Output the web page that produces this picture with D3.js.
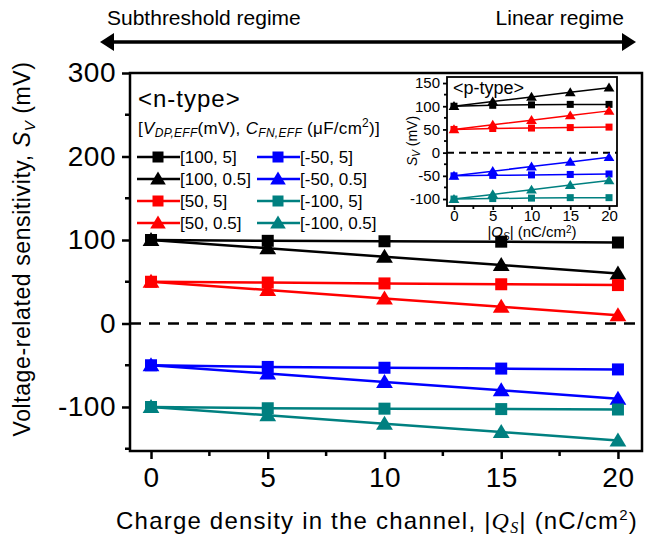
<!DOCTYPE html>
<html>
<head>
<meta charset="utf-8">
<script src="https://cdn.jsdelivr.net/npm/d3@7"></script>
<style>
  body { margin: 0; background: #fff; }
  text { font-family: "Liberation Sans", Arial, sans-serif; }
</style>
</head>
<body>
<svg id="chart" width="645" height="538"></svg>
<script>
// Charge density |Qs| (nC/cm2)
var charge = [0, 5, 10, 15, 20];

// n-type (main plot) Sv values, mV
var n100_5   = [100, 99, 98.5, 98, 97];
var n100_05  = [100, 90, 80, 70, 60];
var n50_5    = [50, 49, 48, 47, 46];
var n50_05   = [50, 40, 30, 20, 10];
var nm50_5   = [-50, -52, -53, -54, -55];
var nm50_05  = [-50, -60, -70, -80, -90];
var nm100_5  = [-100, -101.5, -102, -102.5, -103];
var nm100_05 = [-100, -110, -120, -130, -140];

// p-type (inset) Sv values, mV
var p100_5   = [100, 102, 103, 104, 104];
var p100_05  = [100, 110, 120, 130, 140];
var p50_5    = [50, 52, 53, 54, 55];
var p50_05   = [50, 60, 70, 80, 90];
var pm50_5   = [-50, -49, -48, -47, -46];
var pm50_05  = [-50, -40, -30, -20, -10];
var pm100_5  = [-100, -99, -98, -97, -97];
var pm100_05 = [-100, -90, -80, -70, -60];

var seriesLabels = ["[100, 5]", "[100, 0.5]", "[50, 5]", "[50, 0.5]",
                    "[-50, 5]", "[-50, 0.5]", "[-100, 5]", "[-100, 0.5]"];
var seriesColors = ["#000000", "#000000", "#ff0000", "#ff0000",
                    "#0000ff", "#0000ff", "#008080", "#008080"];
var seriesShapes = ["square", "triangle", "square", "triangle",
                    "square", "triangle", "square", "triangle"];

var mainTicksX = [0, 5, 10, 15, 20];
var mainTicksY = [-100, 0, 100, 200, 300];
var insetTicksY = [-100, -50, 0, 50, 100, 150];

var nSeries = [n100_5, n100_05, n50_5, n50_05, nm50_5, nm50_05, nm100_5, nm100_05];
var pSeries = [p100_5, p100_05, p50_5, p50_05, pm50_5, pm50_05, pm100_5, pm100_05];

var svg = d3.select("#chart");

// Marker drawing: squares and triangles
var drawMarker = function(g, shape, cx, cy, size, color) {
  if (shape === "square") {
    g.append("rect")
      .attr("x", cx - size / 2).attr("y", cy - size / 2)
      .attr("width", size).attr("height", size)
      .attr("fill", color);
  } else {
    var h = size * 0.95;
    g.append("path")
      .attr("d", "M" + cx + "," + (cy - h * 0.6) +
                 " L" + (cx + size * 0.6) + "," + (cy + h * 0.45) +
                 " L" + (cx - size * 0.6) + "," + (cy + h * 0.45) + " Z")
      .attr("fill", color);
  }
};

// Plain hyphen for negatives, as in the original figure
var fmt = d => String(d);

// Draw a framed panel with axes, dashed zero line and series
var drawPanel = function(opts) {
  var x = d3.scaleLinear().domain(opts.xDomain).range([opts.left, opts.right]);
  var y = d3.scaleLinear().domain(opts.yDomain).range([opts.bottom, opts.top]);
  var g = svg.append("g");

  if (opts.background) {
    g.append("rect")
      .attr("x", opts.left).attr("y", opts.top)
      .attr("width", opts.right - opts.left).attr("height", opts.bottom - opts.top)
      .attr("fill", "#fff");
  }

  // dashed zero line
  g.append("line")
    .attr("x1", opts.left).attr("x2", opts.right)
    .attr("y1", y(0)).attr("y2", y(0))
    .attr("stroke", "#000").attr("stroke-width", opts.dashWidth)
    .attr("stroke-dasharray", opts.dash);

  var line = d3.line().x((d, i) => x(charge[i])).y(d => y(d));
  opts.series.forEach((vals, k) => {
    g.append("path")
      .datum(vals)
      .attr("d", line)
      .attr("fill", "none")
      .attr("stroke", seriesColors[k])
      .attr("stroke-width", opts.lineWidth);
    vals.forEach((v, i) => {
      var s = seriesShapes[k] === "square" ? opts.squareSize : opts.triSize;
      drawMarker(g, seriesShapes[k], x(charge[i]), y(v), s, seriesColors[k]);
    });
  });

  // axes
  var xAxis = d3.axisBottom(x).tickValues(opts.xTicks).tickSize(opts.tickLen)
    .tickPadding(opts.xPad).tickFormat(fmt);
  var yAxis = d3.axisLeft(y).tickValues(opts.yTicks).tickSize(opts.tickLen)
    .tickPadding(opts.yPad).tickFormat(fmt);
  var gx = g.append("g").attr("transform", "translate(0," + opts.bottom + ")").call(xAxis);
  var gy = g.append("g").attr("transform", "translate(" + opts.left + ",0)").call(yAxis);
  [gx, gy].forEach(a => {
    a.select(".domain").remove();
    a.selectAll("line").attr("stroke", "#000").attr("stroke-width", opts.axisWidth);
    a.selectAll("text").attr("font-size", opts.tickFont).attr("fill", "#000")
      .attr("letter-spacing", opts.tickSpacing || 0)
      .attr("font-family", "'Liberation Sans', Arial, sans-serif");
  });

  // minor ticks
  var minorX = d3.range(opts.xTicks[0] + opts.xMinor, opts.xTicks[opts.xTicks.length - 1], opts.xMinor * 2);
  minorX.forEach(v => {
    g.append("line").attr("x1", x(v)).attr("x2", x(v))
      .attr("y1", opts.bottom).attr("y2", opts.bottom + opts.minorLen)
      .attr("stroke", "#000").attr("stroke-width", opts.axisWidth);
  });
  var minorY = d3.range(opts.yTicks[0] - opts.yMinor, opts.yDomain[1], opts.yMinor * 2)
    .filter(v => v > opts.yDomain[0] && v < opts.yDomain[1]);
  minorY.forEach(v => {
    g.append("line").attr("y1", y(v)).attr("y2", y(v))
      .attr("x1", opts.left).attr("x2", opts.left - opts.minorLen)
      .attr("stroke", "#000").attr("stroke-width", opts.axisWidth);
  });

  // frame
  g.append("rect")
    .attr("x", opts.left).attr("y", opts.top)
    .attr("width", opts.right - opts.left).attr("height", opts.bottom - opts.top)
    .attr("fill", "none").attr("stroke", "#000").attr("stroke-width", opts.axisWidth);

  return { x: x, y: y, g: g };
};

// Main n-type panel
var main = drawPanel({
  left: 130, right: 642, top: 73, bottom: 451,
  xDomain: [-0.9, 21.03], yDomain: [-152.7, 300],
  xTicks: mainTicksX, yTicks: mainTicksY, xMinor: 2.5, yMinor: 50,
  series: nSeries, lineWidth: 2.5, squareSize: 12, triSize: 14,
  dash: "11,8", dashWidth: 2.5, axisWidth: 2.5, tickLen: 8, minorLen: 5,
  tickFont: "28px", tickSpacing: 0.5, xPad: 8, yPad: 6
});

// Inset p-type panel
var inset = drawPanel({
  left: 447, right: 617, top: 77, bottom: 206, background: true,
  xDomain: [-0.9, 21.03], yDomain: [-115, 163],
  xTicks: mainTicksX, yTicks: insetTicksY, xMinor: 2.5, yMinor: 25,
  series: pSeries, lineWidth: 1.5, squareSize: 7, triSize: 9,
  dash: "7,5", dashWidth: 2, axisWidth: 1.8, tickLen: 4, minorLen: 3,
  tickFont: "15px", xPad: 0, yPad: 3
});

// Top regime arrow (line with filled heads)
svg.append("line")
  .attr("x1", 110).attr("x2", 626).attr("y1", 42).attr("y2", 42)
  .attr("stroke", "#000").attr("stroke-width", 3.5);
svg.append("path").attr("d", "M100,42 L114,33 L114,51 Z").attr("fill", "#000");
svg.append("path").attr("d", "M636,42 L622,33 L622,51 Z").attr("fill", "#000");

svg.append("text").attr("x", 107).attr("y", 25).attr("font-size", "21px").text("Subthreshold regime");
svg.append("text").attr("x", 624).attr("y", 25).attr("font-size", "21px")
  .attr("text-anchor", "end").text("Linear regime");

// Axis titles
var yTitle = svg.append("text")
  .attr("transform", "translate(30,249) rotate(-90)")
  .attr("text-anchor", "middle").attr("font-size", "23px").attr("letter-spacing", 0.6);
yTitle.append("tspan").text("Voltage-related sensitivity, ");
yTitle.append("tspan").attr("font-style", "italic").text("S");
yTitle.append("tspan").attr("font-style", "italic").attr("font-size", "15px").attr("dy", 5).text("V");
yTitle.append("tspan").attr("dy", -5).text(" (mV)");

var xTitle = svg.append("text")
  .attr("x", 377).attr("y", 529)
  .attr("text-anchor", "middle").attr("font-size", "24px").attr("letter-spacing", 1.2);
xTitle.append("tspan").text("Charge density in the channel, |");
xTitle.append("tspan").attr("font-style", "italic").attr("font-family", "'Liberation Serif', serif").text("Q");
xTitle.append("tspan").attr("font-style", "italic").attr("font-family", "'Liberation Serif', serif")
  .attr("font-size", "16px").attr("dy", 4).text("S");
xTitle.append("tspan").attr("dy", -4).text("| (nC/cm");
xTitle.append("tspan").attr("font-size", "15px").attr("dy", -9).text("2");
xTitle.append("tspan").attr("dy", 9).text(")");

// Inset titles
var iyTitle = svg.append("text")
  .attr("transform", "translate(417,141) rotate(-90)")
  .attr("text-anchor", "middle").attr("font-size", "14px");
iyTitle.append("tspan").attr("font-style", "italic").text("S");
iyTitle.append("tspan").attr("font-style", "italic").attr("font-size", "10px").attr("dy", 3).text("V");
iyTitle.append("tspan").attr("dy", -3).text(" (mV)");

var ixTitle = svg.append("text")
  .attr("x", 532).attr("y", 237)
  .attr("text-anchor", "middle").attr("font-size", "15px");
ixTitle.append("tspan").text("|");
ixTitle.append("tspan").attr("font-style", "italic").text("Q");
ixTitle.append("tspan").attr("font-style", "italic").attr("font-size", "10px").attr("dy", 3).text("S");
ixTitle.append("tspan").attr("dy", -3).text("| (nC/cm");
ixTitle.append("tspan").attr("font-size", "10px").attr("dy", -4).text("2");
ixTitle.append("tspan").attr("dy", 4).text(")");

svg.append("text").attr("x", 453).attr("y", 94).attr("font-size", "18px").text("<p-type>");

// Legend
svg.append("text").attr("x", 138).attr("y", 107).attr("font-size", "24px")
  .attr("letter-spacing", 1).text("<n-type>");
var lh = svg.append("text").attr("x", 138).attr("y", 134).attr("font-size", "17px").attr("letter-spacing", 0.3);
lh.append("tspan").text("[");
lh.append("tspan").attr("font-style", "italic").text("V");
lh.append("tspan").attr("font-style", "italic").attr("font-size", "12px").attr("dy", 3).text("DP,EFF");
lh.append("tspan").attr("dy", -3).text("(mV), ");
lh.append("tspan").attr("font-style", "italic").text("C");
lh.append("tspan").attr("font-style", "italic").attr("font-size", "12px").attr("dy", 3).text("FN,EFF");
lh.append("tspan").attr("dy", -3).text(" (\u03bcF/cm");
lh.append("tspan").attr("font-size", "12px").attr("dy", -7).text("2");
lh.append("tspan").attr("dy", 7).text(")]");

var legend = svg.append("g");
seriesLabels.forEach((lab, k) => {
  var col = Math.floor(k / 4), row = k % 4;
  var x0 = col === 0 ? 137 : 257;
  var yy = 157 + row * 22;
  legend.append("line").attr("x1", x0).attr("x2", x0 + 43).attr("y1", yy).attr("y2", yy)
    .attr("stroke", seriesColors[k]).attr("stroke-width", 2.5);
  drawMarker(legend, seriesShapes[k], x0 + 21, yy, seriesShapes[k] === "square" ? 11 : 13, seriesColors[k]);
  legend.append("text").attr("x", x0 + 43).attr("y", yy + 6).attr("font-size", "17px").text(lab);
});
</script>
</body>
</html>
